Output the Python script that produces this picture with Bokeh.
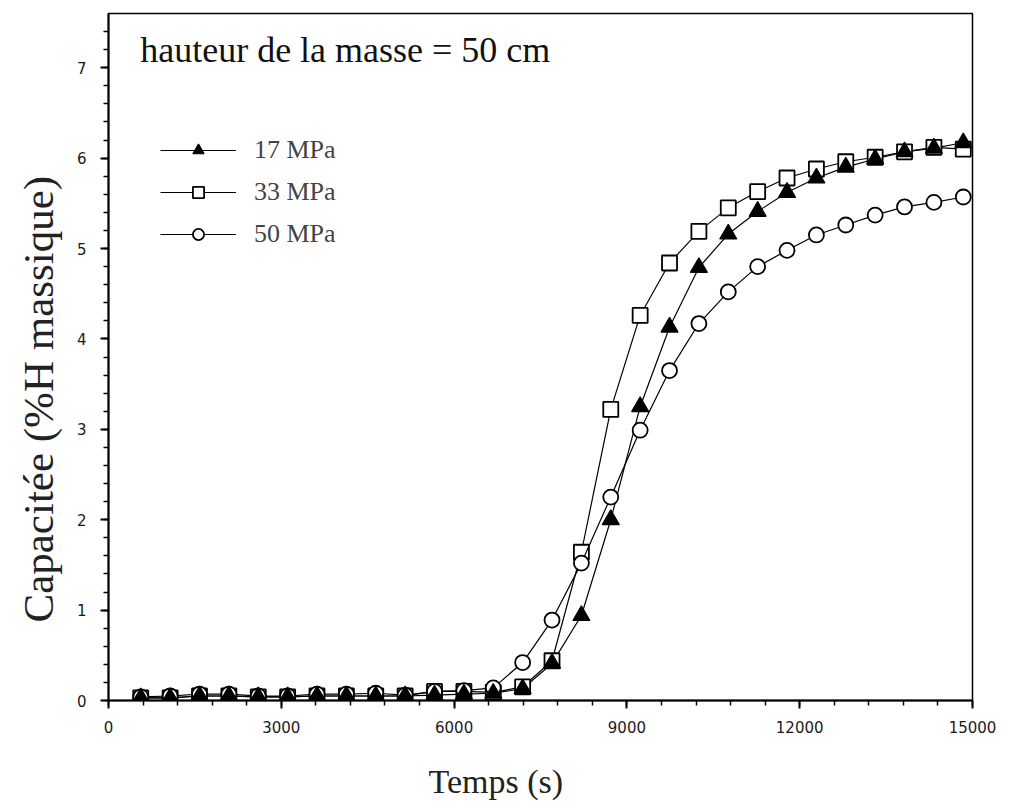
from bokeh.plotting import figure
from bokeh.models import Legend, LegendItem, Label, FixedTicker, Range1d, Title
from bokeh.embed import file_html
from bokeh.resources import INLINE

# ---- data ----
temps = [560, 1070, 1580, 2090, 2600, 3110, 3620, 4130, 4640, 5150, 5660, 6170,
         6680, 7190, 7700, 8210, 8720, 9230, 9740, 10250, 10760, 11270, 11780,
         12290, 12800, 13310, 13820, 14330, 14840]
cap_17 = [0.03, 0.03, 0.05, 0.05, 0.04, 0.04, 0.05, 0.05, 0.05, 0.05, 0.06, 0.07,
          0.08, 0.13, 0.41, 0.94, 2.00, 3.25, 4.13, 4.79, 5.16, 5.41, 5.62, 5.78,
          5.90, 5.99, 6.07, 6.11, 6.17]
cap_33 = [0.03, 0.03, 0.05, 0.05, 0.04, 0.04, 0.05, 0.05, 0.05, 0.05, 0.10, 0.10,
          0.09, 0.15, 0.44, 1.64, 3.22, 4.26, 4.84, 5.19, 5.45, 5.63, 5.78, 5.88,
          5.96, 6.01, 6.07, 6.12, 6.10]
cap_50 = [0.04, 0.05, 0.07, 0.07, 0.05, 0.05, 0.07, 0.07, 0.08, 0.06, 0.10, 0.11,
          0.14, 0.42, 0.89, 1.52, 2.25, 2.99, 3.65, 4.17, 4.52, 4.80, 4.98, 5.15,
          5.26, 5.37, 5.46, 5.51, 5.57]
labels = ["17 MPa", "33 MPa", "50 MPa"]
x_ticks = [0, 3000, 6000, 9000, 12000, 15000]
y_ticks = [0, 1, 2, 3, 4, 5, 6, 7]
x_minor = [v * 600 for v in range(26)]
y_minor = [v * 0.2 for v in range(39)]

SERIF = "Liberation Serif"

p = figure(width=1002, height=809, output_backend="svg", toolbar_location=None,
           x_range=Range1d(0, 15000), y_range=Range1d(0, 7.6),
           min_border_left=108, min_border_right=30, min_border_top=13,
           min_border_bottom=109)
p.grid.visible = False
p.outline_line_color = "black"
p.outline_line_width = 1.5
p.background_fill_color = "white"
p.border_fill_color = "white"

for ax in (p.xaxis[0], p.yaxis[0]):
    ax.axis_line_width = 2
    ax.axis_line_color = "black"
    ax.major_tick_line_width = 2
    ax.minor_tick_line_width = 1.5
    ax.major_tick_out = 8
    ax.major_tick_in = 0
    ax.minor_tick_out = 5
    ax.minor_tick_in = 0
    ax.major_label_text_font = "DejaVu Sans"
    ax.major_label_text_font_size = "15px"
    ax.major_label_text_color = "#1a1a1a"

p.xaxis.ticker = FixedTicker(ticks=x_ticks, minor_ticks=x_minor)
p.yaxis.ticker = FixedTicker(ticks=y_ticks, minor_ticks=y_minor)
p.xaxis.major_label_standoff = 12
p.yaxis.major_label_standoff = 14

l17 = p.line(temps, cap_17, line_color="black", line_width=1.2)
s17 = p.scatter(temps, cap_17, marker="triangle", size=17, fill_color="black",
                line_color="black", line_width=1.2)
l33 = p.line(temps, cap_33, line_color="black", line_width=1.2)
s33 = p.scatter(temps, cap_33, marker="square", size=15, fill_color="white",
                line_color="black", line_width=1.8)
l50 = p.line(temps, cap_50, line_color="black", line_width=1.2)
s50 = p.scatter(temps, cap_50, marker="circle", size=15, fill_color="white",
                line_color="black", line_width=1.8)

# triangles drawn on top (they sit above the squares at the end)
p.renderers.remove(s17)
p.renderers.append(s17)

legend = Legend(items=[LegendItem(label=labels[0], renderers=[l17, s17]),
                       LegendItem(label=labels[1], renderers=[l33, s33]),
                       LegendItem(label=labels[2], renderers=[l50, s50])],
                location=(52, 451), orientation="vertical")
legend.border_line_color = None
legend.background_fill_alpha = 0
legend.padding = 0
legend.margin = 0
legend.spacing = 12
legend.glyph_width = 76
legend.glyph_height = 28
legend.label_height = 28
legend.label_standoff = 18
legend.label_text_font = SERIF
legend.label_text_font_size = "26px"
legend.label_text_color = "#444444"
p.add_layout(legend, "center")

title = Label(x=550, y=7.2, text="hauteur de la masse = 50 cm",
              text_font=SERIF, text_font_size="36px", text_color="#111111",
              text_baseline="middle")
p.add_layout(title)

# axis titles, placed as in the reference (not centred on the frame)
spacer = Title(text=" ", text_font_size="1px", standoff=22)
xlab = Title(text="Temps (s)", align="left", offset=320, text_font=SERIF,
             text_font_size="34px", text_color="#222222",
             text_font_style="normal", standoff=0)
ylab = Title(text="Capacitée (%H massique)", align="left", offset=78,
             vertical_align="top",
             text_font=SERIF, text_font_size="43px", text_color="#222222",
             text_font_style="normal", standoff=20)
p.add_layout(spacer, "below")
p.add_layout(xlab, "below")
p.add_layout(ylab, "left")

open("out.html", "w").write(file_html(p, INLINE))
